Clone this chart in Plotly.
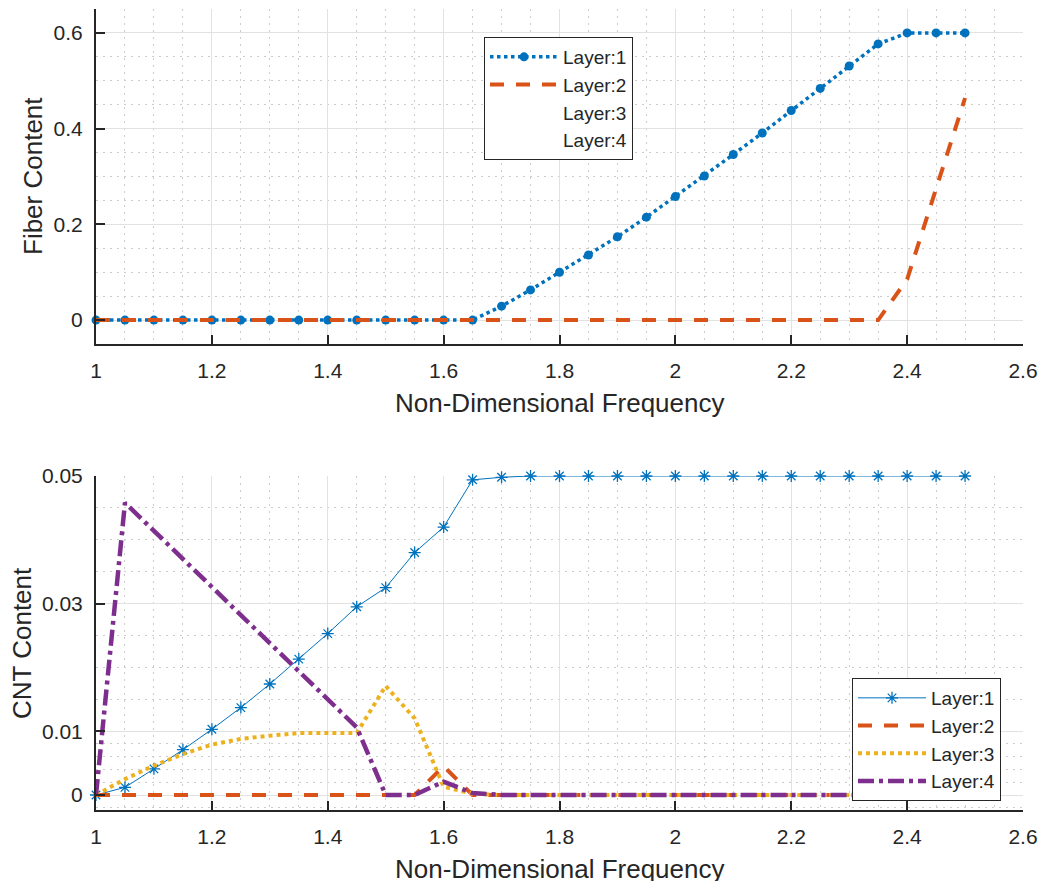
import plotly.graph_objects as go

# ---------------- data ----------------
freq = [1.00, 1.05, 1.10, 1.15, 1.20, 1.25, 1.30, 1.35, 1.40, 1.45, 1.50,
        1.55, 1.60, 1.65, 1.70, 1.75, 1.80, 1.85, 1.90, 1.95, 2.00, 2.05,
        2.10, 2.15, 2.20, 2.25, 2.30, 2.35, 2.40, 2.45, 2.50]

fiber_l1 = [0, 0, 0, 0, 0, 0, 0, 0, 0, 0, 0, 0, 0, 0,
            0.029, 0.063, 0.100, 0.136, 0.174, 0.215, 0.258, 0.301, 0.346,
            0.391, 0.438, 0.484, 0.531, 0.577, 0.600, 0.600, 0.600]
fiber_l2 = [0, 0, 0, 0, 0, 0, 0, 0, 0, 0, 0, 0, 0, 0, 0, 0, 0, 0, 0, 0,
            0, 0, 0, 0, 0, 0, 0, 0, 0.085, 0.275, 0.464]
# layers 3 and 4 carry no fiber and are drawn without a line (legend text only)
fiber_l3 = [0, 0, 0, 0, 0, 0, 0, 0, 0, 0, 0, 0, 0, 0, 0, 0, 0, 0, 0, 0,
            0, 0, 0, 0, 0, 0, 0, 0, 0, 0, 0]
fiber_l4 = [0, 0, 0, 0, 0, 0, 0, 0, 0, 0, 0, 0, 0, 0, 0, 0, 0, 0, 0, 0,
            0, 0, 0, 0, 0, 0, 0, 0, 0, 0, 0]

cnt_l1 = [0, 0.0012, 0.0041, 0.0071, 0.0103, 0.0137, 0.0174, 0.0213, 0.0253,
          0.0295, 0.0325, 0.0380, 0.0420, 0.0494, 0.0498, 0.05, 0.05, 0.05,
          0.05, 0.05, 0.05, 0.05, 0.05, 0.05, 0.05, 0.05, 0.05, 0.05, 0.05,
          0.05, 0.05]
cnt_l2 = [0, 0, 0, 0, 0, 0, 0, 0, 0, 0, 0, 0, 0.0045, 0, 0, 0, 0, 0, 0, 0,
          0, 0, 0, 0, 0, 0, 0, 0, 0, 0, 0]
cnt_l3 = [0, 0.0025, 0.0046, 0.0064, 0.0079, 0.0088, 0.0093, 0.0097, 0.0097,
          0.0097, 0.0171, 0.0120, 0.0013, 0.0002, 0, 0, 0, 0, 0, 0, 0, 0, 0,
          0, 0, 0, 0, 0, 0, 0, 0]
cnt_l4 = [0, 0.0458, 0.0414, 0.0370, 0.0326, 0.0282, 0.0238, 0.0194, 0.0150,
          0.0106, 0, 0, 0.0021, 0.0003, 0, 0, 0, 0, 0, 0, 0, 0, 0, 0, 0, 0,
          0, 0, 0, 0, 0]

layer_names = ["Layer:1", "Layer:2", "Layer:3", "Layer:4"]

x_tickvals = [1, 1.2, 1.4, 1.6, 1.8, 2, 2.2, 2.4, 2.6]
x_ticktext = ["1", "1.2", "1.4", "1.6", "1.8", "2", "2.2", "2.4", "2.6"]
y1_tickvals = [0, 0.2, 0.4, 0.6]
y1_ticktext = ["0", "0.2", "0.4", "0.6"]
y2_tickvals = [0, 0.01, 0.03, 0.05]
y2_ticktext = ["0", "0.01", "0.03", "0.05"]
y2_minorvals = [-0.002, 0.002, 0.004, 0.006, 0.008, 0.015, 0.02, 0.025,
                0.035, 0.04, 0.045]

x_title = "Non-Dimensional Frequency"
y1_title = "Fiber Content"
y2_title = "CNT Content"

# ---------------- style ----------------
W, H = 1046, 881
FONT = "Liberation Sans, Arial, sans-serif"
TXT = "#262626"
BLUE, ORANGE, YELLOW, PURPLE = "#0072BD", "#D95319", "#EDB120", "#7E2F8E"


def fx(p):
    return p / W


def fy(p):
    return 1 - p / H


fig = go.Figure()

# top panel
fig.add_trace(go.Scatter(x=freq, y=fiber_l1, name=layer_names[0], mode="lines+markers",
                         line=dict(color=BLUE, width=3.5, dash="dot"),
                         marker=dict(symbol="circle", size=9, color=BLUE),
                         xaxis="x", yaxis="y", legend="legend", cliponaxis=False))
fig.add_trace(go.Scatter(x=freq, y=fiber_l2, name=layer_names[1], mode="lines",
                         line=dict(color=ORANGE, width=4, dash="14px,12px"),
                         xaxis="x", yaxis="y", legend="legend"))
fig.add_trace(go.Scatter(x=freq, y=fiber_l3, name=layer_names[2], mode="lines",
                         line=dict(color=YELLOW, width=0),
                         xaxis="x", yaxis="y", legend="legend"))
fig.add_trace(go.Scatter(x=freq, y=fiber_l4, name=layer_names[3], mode="lines",
                         line=dict(color=PURPLE, width=0),
                         xaxis="x", yaxis="y", legend="legend"))

# bottom panel
fig.add_trace(go.Scatter(x=freq, y=cnt_l1, name=layer_names[0], mode="lines+markers",
                         line=dict(color=BLUE, width=1),
                         marker=dict(symbol="asterisk-open", size=10,
                                     line=dict(color=BLUE, width=1.3)),
                         xaxis="x2", yaxis="y2", legend="legend2", cliponaxis=False))
fig.add_trace(go.Scatter(x=freq, y=cnt_l2, name=layer_names[1], mode="lines",
                         line=dict(color=ORANGE, width=4, dash="14px,12px"),
                         xaxis="x2", yaxis="y2", legend="legend2"))
fig.add_trace(go.Scatter(x=freq, y=cnt_l3, name=layer_names[2], mode="lines",
                         line=dict(color=YELLOW, width=4, dash="dot"),
                         xaxis="x2", yaxis="y2", legend="legend2"))
fig.add_trace(go.Scatter(x=freq, y=cnt_l4, name=layer_names[3], mode="lines",
                         line=dict(color=PURPLE, width=4.5, dash="16px,5px,4px,5px"),
                         xaxis="x2", yaxis="y2", legend="legend2"))

axis_common = dict(showline=True, linecolor=TXT, linewidth=2, mirror=False,
                   automargin=False,
                   ticks="inside", ticklen=9, tickwidth=1.5, tickcolor=TXT,
                   showgrid=True, gridcolor="#e2e2e2", gridwidth=1, zeroline=False,
                   tickfont=dict(family=FONT, size=21, color=TXT))
minor_common = dict(showgrid=True, gridcolor="#cccccc", griddash="2px,5px",
                    gridwidth=1, ticks="")

xdom = [fx(96), fx(1023)]
fig.update_layout(
    template="none",
    width=W, height=H,
    margin=dict(l=0, r=0, t=0, b=0, pad=0, autoexpand=False),
    paper_bgcolor="white", plot_bgcolor="white",
    font=dict(family=FONT, color=TXT),
    xaxis=dict(domain=xdom, anchor="y", range=[1, 2.6], tickmode="array",
               tickvals=x_tickvals, ticktext=x_ticktext, ticklabelstandoff=7,
               minor=dict(dtick=0.05, tick0=1, **minor_common), **axis_common),
    yaxis=dict(domain=[fy(344), fy(9)], anchor="x", range=[-0.05, 0.65],
               tickmode="array", tickvals=y1_tickvals, ticktext=y1_ticktext,
               ticklabelstandoff=7,
               minor=dict(dtick=0.05, tick0=0, **minor_common), **axis_common),
    xaxis2=dict(domain=xdom, anchor="y2", range=[1, 2.6], tickmode="array",
                tickvals=x_tickvals, ticktext=x_ticktext, ticklabelstandoff=7,
                minor=dict(dtick=0.05, tick0=1, **minor_common), **axis_common),
    yaxis2=dict(domain=[fy(810), fy(476)], anchor="x2", range=[-0.00235, 0.05],
                tickmode="array", tickvals=y2_tickvals, ticktext=y2_ticktext,
                ticklabelstandoff=7,
                minor=dict(tickmode="array", tickvals=y2_minorvals, **minor_common),
                **axis_common),
    legend=dict(x=fx(484), y=fy(37), xanchor="left", yanchor="top",
                bgcolor="white", bordercolor=TXT, borderwidth=1,
                font=dict(family=FONT, size=19, color=TXT), itemwidth=68),
    legend2=dict(x=fx(852), y=fy(678), xanchor="left", yanchor="top",
                 bgcolor="white", bordercolor=TXT, borderwidth=1,
                 font=dict(family=FONT, size=19, color=TXT), itemwidth=68),
    showlegend=True,
)

title_font = dict(family=FONT, size=26, color=TXT)
fig.add_annotation(text=x_title, xref="paper", yref="paper", x=fx(559), y=fy(402.5),
                   xanchor="center", yanchor="middle", showarrow=False, font=title_font)
fig.add_annotation(text=x_title, xref="paper", yref="paper", x=fx(559), y=fy(869),
                   xanchor="center", yanchor="middle", showarrow=False, font=title_font)
fig.add_annotation(text=y1_title, xref="paper", yref="paper", x=fx(32.5), y=fy(176.5),
                   xanchor="center", yanchor="middle", showarrow=False, font=title_font,
                   textangle=-90)
fig.add_annotation(text=y2_title, xref="paper", yref="paper", x=fx(22), y=fy(643),
                   xanchor="center", yanchor="middle", showarrow=False, font=title_font,
                   textangle=-90)

fig.write_html("out.html")
